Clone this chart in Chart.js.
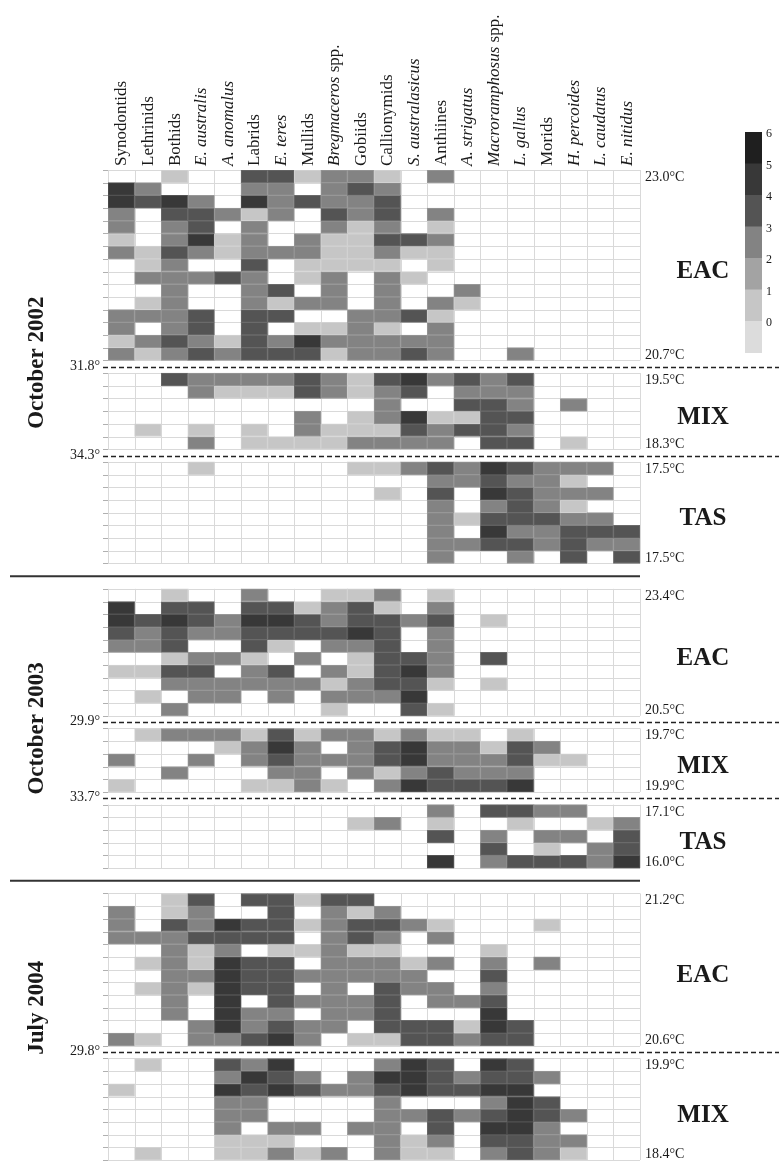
<!DOCTYPE html>
<html>
<head>
<meta charset="utf-8">
<script src="https://cdn.jsdelivr.net/npm/chart.js@4.4.1/dist/chart.umd.min.js"></script>
<style>
  html, body { margin: 0; padding: 0; background: #fff; }
  canvas { display: block; }
</style>
</head>
<body>
<canvas id="heat" width="779" height="1163"></canvas>
<script>
// Columns (taxa), left to right
const species = ['Synodontids', 'Lethrinids', 'Bothids', 'E. australis', 'A. anomalus', 'Labrids',
  'E. teres', 'Mullids', 'Bregmaceros spp.', 'Gobiids', 'Callionymids', 'S. australasicus',
  'Anthiines', 'A. strigatus', 'Macroramphosus spp.', 'L. gallus', 'Morids', 'H. percoides',
  'L. caudatus', 'E. nitidus'];

// Abundance class per station (one row per station), 0 = not caught (white cell)
const eac2002 = [
  [0,0,1,0,0,4,4,1,3,3,1,0,3,0,0,0,0,0,0,0],
  [5,3,0,0,0,3,3,0,3,4,3,0,0,0,0,0,0,0,0,0],
  [5,4,5,3,0,5,3,4,3,3,4,0,0,0,0,0,0,0,0,0],
  [3,0,4,4,3,1,3,0,4,3,4,0,3,0,0,0,0,0,0,0],
  [3,0,3,4,0,3,0,0,3,1,3,0,1,0,0,0,0,0,0,0],
  [1,0,3,5,1,3,0,3,1,1,4,4,3,0,0,0,0,0,0,0],
  [3,1,4,3,1,3,3,3,1,1,3,1,1,0,0,0,0,0,0,0],
  [0,1,3,0,0,4,0,1,1,1,1,0,1,0,0,0,0,0,0,0],
  [0,3,3,3,4,3,0,1,3,0,3,1,0,0,0,0,0,0,0,0],
  [0,0,3,0,0,3,4,0,3,0,3,0,0,3,0,0,0,0,0,0],
  [0,1,3,0,0,3,1,3,3,0,3,0,3,1,0,0,0,0,0,0],
  [3,3,3,4,0,4,4,0,0,3,3,4,1,0,0,0,0,0,0,0],
  [3,0,3,4,0,4,0,1,1,3,1,0,3,0,0,0,0,0,0,0],
  [1,3,4,3,1,4,3,5,3,3,3,3,3,0,0,0,0,0,0,0],
  [3,1,3,4,3,4,4,4,1,3,3,4,3,0,0,3,0,0,0,0]
];
const mix2002 = [
  [0,0,4,3,3,3,3,4,3,1,4,5,3,4,3,4,0,0,0,0],
  [0,0,0,3,1,1,1,4,3,1,3,4,0,3,3,3,0,0,0,0],
  [0,0,0,0,0,0,0,0,0,0,3,0,0,4,4,3,0,3,0,0],
  [0,0,0,0,0,0,0,3,0,1,3,5,1,1,4,4,0,0,0,0],
  [0,1,0,1,0,1,0,3,1,1,1,4,3,4,4,3,0,0,0,0],
  [0,0,0,3,0,1,1,1,1,3,3,3,3,0,4,4,0,1,0,0]
];
const tas2002 = [
  [0,0,0,1,0,0,0,0,0,1,1,3,4,3,5,4,3,3,3,0],
  [0,0,0,0,0,0,0,0,0,0,0,0,3,3,4,3,3,1,0,0],
  [0,0,0,0,0,0,0,0,0,0,1,0,4,0,5,4,3,3,3,0],
  [0,0,0,0,0,0,0,0,0,0,0,0,3,0,3,4,3,1,0,0],
  [0,0,0,0,0,0,0,0,0,0,0,0,3,1,4,4,4,3,3,0],
  [0,0,0,0,0,0,0,0,0,0,0,0,3,0,5,3,3,4,4,4],
  [0,0,0,0,0,0,0,0,0,0,0,0,3,3,4,4,3,4,3,3],
  [0,0,0,0,0,0,0,0,0,0,0,0,3,0,0,3,0,4,0,4]
];
const eac2003 = [
  [0,0,1,0,0,3,0,0,1,1,3,0,1,0,0,0,0,0,0,0],
  [5,0,4,4,0,4,4,1,3,4,1,0,3,0,0,0,0,0,0,0],
  [5,4,5,4,3,5,5,4,3,4,4,3,4,0,1,0,0,0,0,0],
  [4,3,4,3,3,4,4,4,4,5,4,0,3,0,0,0,0,0,0,0],
  [3,3,4,0,0,4,1,0,3,3,4,0,3,0,0,0,0,0,0,0],
  [0,0,1,3,3,1,0,3,0,1,4,4,3,0,4,0,0,0,0,0],
  [1,1,4,4,0,3,4,0,3,1,4,5,3,0,0,0,0,0,0,0],
  [0,0,3,3,3,3,3,3,1,3,4,4,1,0,1,0,0,0,0,0],
  [0,1,0,3,3,0,3,0,3,3,3,5,0,0,0,0,0,0,0,0],
  [0,0,3,0,0,0,0,0,1,0,0,4,1,0,0,0,0,0,0,0]
];
const mix2003 = [
  [0,1,3,3,3,1,4,1,3,3,1,3,1,1,0,1,0,0,0,0],
  [0,0,0,0,1,3,5,3,0,3,4,5,3,3,1,4,3,0,0,0],
  [3,0,0,3,0,3,4,3,3,3,4,5,3,3,3,4,1,1,0,0],
  [0,0,3,0,0,0,3,3,0,3,1,3,4,3,3,3,0,0,0,0],
  [1,0,0,0,0,1,1,3,1,0,3,5,4,4,4,5,0,0,0,0]
];
const tas2003 = [
  [0,0,0,0,0,0,0,0,0,0,0,0,3,0,4,4,3,3,0,0],
  [0,0,0,0,0,0,0,0,0,1,3,0,1,0,0,1,0,0,1,3],
  [0,0,0,0,0,0,0,0,0,0,0,0,4,0,3,0,3,3,0,4],
  [0,0,0,0,0,0,0,0,0,0,0,0,0,0,4,0,1,0,3,4],
  [0,0,0,0,0,0,0,0,0,0,0,0,5,0,3,4,4,4,3,5]
];
const eac2004 = [
  [0,0,1,4,0,4,4,1,4,4,0,0,0,0,0,0,0,0,0,0],
  [3,0,1,3,0,0,4,0,3,1,3,0,0,0,0,0,0,0,0,0],
  [3,0,4,3,5,4,4,1,3,4,4,3,1,0,0,0,1,0,0,0],
  [3,3,3,4,4,4,4,0,3,4,3,0,3,0,0,0,0,0,0,0],
  [0,0,3,1,3,0,1,1,3,1,1,0,0,0,1,0,0,0,0,0],
  [0,1,3,1,5,4,4,0,3,3,3,1,3,0,3,0,3,0,0,0],
  [0,0,3,3,5,4,4,3,3,3,3,3,0,0,4,0,0,0,0,0],
  [0,1,3,1,5,4,4,0,3,0,4,3,3,0,3,0,0,0,0,0],
  [0,0,3,0,5,0,4,3,3,3,4,0,3,3,4,0,0,0,0,0],
  [0,0,3,0,5,3,3,0,3,3,4,0,0,0,5,0,0,0,0,0],
  [0,0,0,3,5,3,4,3,3,0,4,4,4,1,5,4,0,0,0,0],
  [3,1,0,3,3,4,5,3,0,1,1,4,4,3,4,4,0,0,0,0]
];
const mix2004 = [
  [0,1,0,0,4,3,5,0,0,0,3,5,4,0,5,4,0,0,0,0],
  [0,0,0,0,3,5,4,3,0,3,5,5,4,3,4,4,3,0,0,0],
  [1,0,0,0,5,4,5,4,3,3,4,5,4,4,5,5,0,0,0,0],
  [0,0,0,0,3,3,0,0,0,0,3,0,0,0,3,5,4,0,0,0],
  [0,0,0,0,3,3,0,0,0,0,3,3,4,3,4,5,4,3,0,0],
  [0,0,0,0,3,0,3,3,0,3,3,0,4,0,5,5,3,0,0,0],
  [0,0,0,0,1,1,1,0,0,0,3,1,3,0,4,4,3,3,0,0],
  [0,1,0,0,1,1,3,1,3,0,3,1,1,0,3,4,3,1,0,0]
];

// Legend classes, top to bottom
const legendClasses = [6, 5, 4, 3, 2, 1, 0];

const shade = ['#dcdcdc', '#c6c6c6', '#a3a3a3', '#838383', '#545454', '#383838', '#1f1f1f'];
const edge = ['#e4e4e4', '#d2d2d2', '#b2b2b2', '#979797', '#6a6a6a', '#525252', '#383838'];
const serif = '"Liberation Serif", "DejaVu Serif", serif';

const periods = [
  { name: 'October 2002', lats: ['31.8\u00b0', '34.3\u00b0'], zones: [
    { zone: 'EAC', rows: eac2002, temps: ['23.0', '20.7'] },
    { zone: 'MIX', rows: mix2002, temps: ['19.5', '18.3'] },
    { zone: 'TAS', rows: tas2002, temps: ['17.5', '17.5'] } ] },
  { name: 'October 2003', lats: ['29.9\u00b0', '33.7\u00b0'], zones: [
    { zone: 'EAC', rows: eac2003, temps: ['23.4', '20.5'] },
    { zone: 'MIX', rows: mix2003, temps: ['19.7', '19.9'] },
    { zone: 'TAS', rows: tas2003, temps: ['17.1', '16.0'] } ] },
  { name: 'July 2004', lats: ['29.8\u00b0'], zones: [
    { zone: 'EAC', rows: eac2004, temps: ['21.2', '20.6'] },
    { zone: 'MIX', rows: mix2004, temps: ['19.9', '18.4'] } ] }
];

// small vertical nudges (px) for the rotated period names
const periodNudge = [-4, 0, -19];

// Stack the stations down the y axis (1 unit per row, gaps between zones/periods)
const ZONE_GAP = 1, PERIOD_GAP = 2;
const datasets = [];
const dashes = [];
const solids = [];
let pos = 0;
periods.forEach((p, i) => {
  if (i > 0) { solids.push(pos + PERIOD_GAP / 2); pos += PERIOD_GAP; }
  p.start = pos;
  p.zones.forEach((z, j) => {
    if (j > 0) { dashes.push({ at: pos + ZONE_GAP / 2, lat: p.lats[j - 1] }); pos += ZONE_GAP; }
    z.start = pos;
    z.rows.forEach(row => {
      const y0 = pos;
      datasets.push({
        data: row.map(v => v ? [y0, y0 + 1] : null),
        backgroundColor: row.map(v => shade[v]),
        borderColor: row.map(v => edge[v]),
        borderWidth: 1,
        borderSkipped: false,
        grouped: false,
        categoryPercentage: 1,
        barPercentage: 1
      });
      pos += 1;
    });
    z.end = pos;
  });
  p.end = pos;
});
const totalUnits = pos;

function colEdges(x, area) {
  const edges = [area.left];
  for (let i = 1; i < species.length; i++) {
    edges.push((x.getPixelForValue(i - 1) + x.getPixelForValue(i)) / 2);
  }
  edges.push(area.right);
  return edges;
}

function drawTaxon(ctx, text, cx, bottom) {
  let parts;
  const m = text.match(/^(.*) (spp\.)$/);
  if (m) parts = [[m[1], true], [' ' + m[2], false]];
  else if (/^[A-Z]\. /.test(text)) parts = [[text, true]];
  else parts = [[text, false]];
  ctx.save();
  ctx.translate(cx + 5, bottom);
  ctx.rotate(-Math.PI / 2);
  ctx.textAlign = 'left';
  ctx.textBaseline = 'alphabetic';
  let off = 0;
  parts.forEach(([t, it]) => {
    ctx.font = (it ? 'italic ' : '') + '17px ' + serif;
    ctx.fillText(t, off, 0);
    off += ctx.measureText(t).width;
  });
  ctx.restore();
}

const gridPlugin = {
  id: 'cellGrid',
  beforeDatasetsDraw(chart) {
    const { ctx, chartArea: area, scales: { x, y } } = chart;
    const xs = colEdges(x, area);
    ctx.save();
    ctx.lineWidth = 1;
    periods.forEach(p => p.zones.forEach(z => {
      const top = y.getPixelForValue(z.start), bot = y.getPixelForValue(z.end);
      ctx.strokeStyle = '#d9d9d9';
      ctx.beginPath();
      xs.forEach(px => { const sx = Math.round(px) + 0.5; ctx.moveTo(sx, top); ctx.lineTo(sx, bot); });
      for (let r = z.start; r <= z.end; r++) {
        const sy = Math.round(y.getPixelForValue(r)) + 0.5;
        ctx.moveTo(area.left, sy); ctx.lineTo(area.right, sy);
      }
      ctx.stroke();
      // small ticks left of the grid
      ctx.strokeStyle = '#b0b0b0';
      ctx.beginPath();
      for (let r = z.start; r <= z.end; r++) {
        const sy = Math.round(y.getPixelForValue(r)) + 0.5;
        ctx.moveTo(area.left - 5, sy); ctx.lineTo(area.left, sy);
      }
      ctx.stroke();
    }));
    ctx.restore();
  },
  afterDraw(chart) {
    const { ctx, chartArea: area, scales: { x, y } } = chart;
    ctx.save();
    ctx.fillStyle = '#1a1a1a';

    // taxon names above the columns
    species.forEach((s, i) => drawTaxon(ctx, s, x.getPixelForValue(i), area.top - 4));

    // dashed zone boundaries with latitude
    dashes.forEach(d => {
      const py = Math.round(y.getPixelForValue(d.at)) + 0.5;
      ctx.save();
      ctx.strokeStyle = '#222';
      ctx.lineWidth = 1.3;
      ctx.setLineDash([5, 3]);
      ctx.beginPath();
      ctx.moveTo(area.left - 5, py);
      ctx.lineTo(chart.width, py);
      ctx.stroke();
      ctx.restore();
      ctx.font = '14px ' + serif;
      ctx.textAlign = 'right';
      ctx.textBaseline = 'middle';
      ctx.fillText(d.lat, area.left - 8, py - 1);
    });

    // solid period separators
    solids.forEach(s => {
      const py = y.getPixelForValue(s);
      ctx.save();
      ctx.strokeStyle = '#333';
      ctx.lineWidth = 2;
      ctx.beginPath();
      ctx.moveTo(10, py);
      ctx.lineTo(area.right, py);
      ctx.stroke();
      ctx.restore();
    });

    periods.forEach((p, i) => {
      // period name, rotated
      const cy = (y.getPixelForValue(p.start) + y.getPixelForValue(p.end)) / 2 + periodNudge[i];
      ctx.save();
      ctx.translate(43, cy);
      ctx.rotate(-Math.PI / 2);
      ctx.font = 'bold 23px ' + serif;
      ctx.textAlign = 'center';
      ctx.textBaseline = 'alphabetic';
      ctx.fillText(p.name, 0, 0);
      ctx.restore();

      p.zones.forEach(z => {
        // temperatures at first and last station
        ctx.font = '14px ' + serif;
        ctx.textAlign = 'left';
        ctx.textBaseline = 'middle';
        ctx.fillText(z.temps[0] + '\u00b0C', area.right + 5, y.getPixelForValue(z.start + 0.5) + 1);
        ctx.fillText(z.temps[1] + '\u00b0C', area.right + 5, y.getPixelForValue(z.end - 0.5) + 1);
        // water mass label
        const zc = (y.getPixelForValue(z.start) + y.getPixelForValue(z.end)) / 2;
        ctx.font = 'bold 25px ' + serif;
        ctx.textAlign = 'center';
        ctx.fillText(z.zone, 703, zc + 6);
      });
    });

    // grey-scale key
    const kx = 745, kw = 17, ky = 132, kh = 31.5;
    legendClasses.forEach((c, i) => {
      ctx.fillStyle = shade[c];
      ctx.fillRect(kx, ky + i * kh, kw, kh + 0.5);
    });
    ctx.fillStyle = '#1a1a1a';
    ctx.font = '12px ' + serif;
    ctx.textAlign = 'left';
    ctx.textBaseline = 'middle';
    legendClasses.forEach((c, i) => ctx.fillText(String(c), kx + kw + 4, ky + i * kh + 2));
    ctx.restore();
  }
};

new Chart(document.getElementById('heat'), {
  type: 'bar',
  data: { labels: species, datasets },
  options: {
    responsive: false,
    animation: false,
    devicePixelRatio: 1,
    layout: { padding: { left: 108, right: 139, top: 170, bottom: 3 } },
    plugins: { legend: { display: false }, tooltip: { enabled: false } },
    scales: {
      x: { type: 'category', display: false, offset: true },
      y: { type: 'linear', display: false, min: 0, max: totalUnits, reverse: true }
    }
  },
  plugins: [gridPlugin]
});
</script>
</body>
</html>
